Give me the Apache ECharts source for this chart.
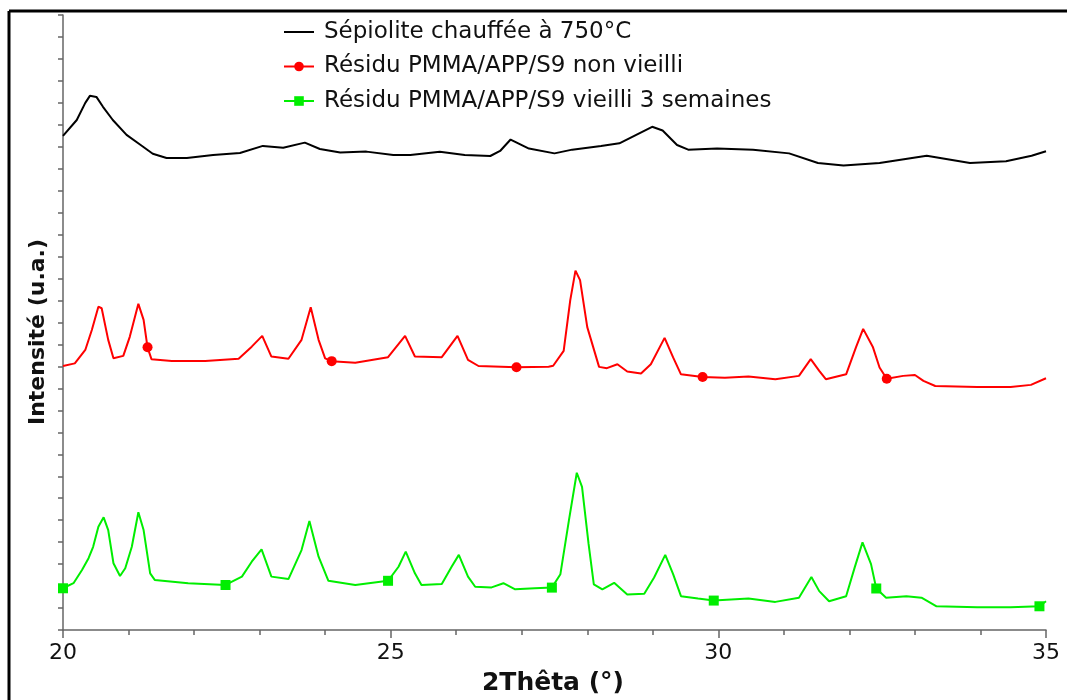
<!DOCTYPE html>
<html>
<head>
<meta charset="utf-8">
<script src="https://cdn.jsdelivr.net/npm/echarts@6/dist/echarts.min.js"></script>
<style>
html,body{margin:0;padding:0;background:#fff;overflow:hidden;}
#chart{width:1067px;height:700px;}
</style>
</head>
<body>
<div id="chart"></div>
<script>
// ---- Data (2θ in degrees, intensity in arbitrary units) ----
const seriesNames = [
  'Sépiolite chauffée à 750°C',
  'Résidu PMMA/APP/S9 non vieilli',
  'Résidu PMMA/APP/S9 vieilli 3 semaines'
];
const xAxisTitle = '2Thêta (°)';
const yAxisTitle = 'Intensité (u.a.)';
const xTickValues = [20, 25, 30, 35];

const sepiolite = [
  [20.00,22.50],[20.21,23.22],[20.34,24.00],[20.41,24.32],[20.51,24.27],[20.61,23.82],
  [20.76,23.22],[20.97,22.54],[21.18,22.09],[21.37,21.68],[21.58,21.49],[21.89,21.49],
  [22.29,21.63],[22.70,21.72],[23.05,22.04],[23.36,21.96],[23.69,22.19],[23.92,21.90],
  [24.23,21.74],[24.63,21.78],[25.04,21.63],[25.30,21.63],[25.75,21.77],[26.13,21.63],
  [26.52,21.58],[26.67,21.81],[26.83,22.33],[27.11,21.92],[27.50,21.70],[27.77,21.87],
  [28.21,22.04],[28.49,22.16],[28.77,22.58],[28.99,22.91],[29.15,22.74],[29.37,22.08],
  [29.54,21.87],[29.98,21.92],[30.53,21.87],[31.08,21.70],[31.52,21.26],[31.91,21.15],
  [32.46,21.26],[33.18,21.59],[33.84,21.26],[34.39,21.34],[34.78,21.59],[35.00,21.80]
];

const nonVieilli = [
  [20.00,12.02],[20.18,12.14],[20.34,12.75],[20.44,13.66],[20.54,14.72],[20.59,14.65],
  [20.69,13.21],[20.77,12.37],[20.92,12.48],[21.02,13.36],[21.15,14.85],[21.23,14.12],
  [21.29,12.87],[21.35,12.33],[21.66,12.25],[22.17,12.25],[22.68,12.35],[22.88,12.90],
  [23.04,13.39],[23.18,12.45],[23.44,12.35],[23.64,13.21],[23.78,14.69],[23.90,13.21],
  [24.00,12.37],[24.10,12.24],[24.46,12.17],[24.96,12.42],[25.22,13.39],[25.37,12.45],
  [25.78,12.42],[26.02,13.39],[26.18,12.30],[26.34,12.02],[26.92,11.96],[27.41,11.99],
  [27.48,12.03],[27.64,12.71],[27.74,15.01],[27.82,16.36],[27.89,15.93],[28.00,13.79],
  [28.18,11.98],[28.30,11.92],[28.46,12.10],[28.61,11.77],[28.82,11.68],[28.97,12.10],
  [29.18,13.30],[29.31,12.41],[29.43,11.64],[29.76,11.52],[30.10,11.49],[30.46,11.54],
  [30.87,11.42],[31.23,11.57],[31.41,12.33],[31.54,11.80],[31.64,11.42],[31.95,11.64],
  [32.10,12.87],[32.21,13.71],[32.36,12.87],[32.46,11.95],[32.57,11.44],[32.82,11.57],
  [33.00,11.61],[33.13,11.34],[33.31,11.11],[33.95,11.06],[34.46,11.06],[34.77,11.16],
  [35.00,11.46]
];
const nonVieilliMarkerX = [21.29, 24.10, 26.92, 29.76, 32.57];

const vieilli = [
  [20.00,1.90],[20.16,2.13],[20.29,2.73],[20.39,3.27],[20.46,3.79],[20.54,4.70],
  [20.62,5.13],[20.69,4.55],[20.77,3.04],[20.87,2.46],[20.95,2.81],[21.05,3.79],
  [21.15,5.36],[21.23,4.55],[21.33,2.58],[21.40,2.28],[21.91,2.13],[22.48,2.05],
  [22.73,2.43],[22.88,3.11],[23.03,3.67],[23.18,2.43],[23.44,2.32],[23.64,3.64],
  [23.76,4.96],[23.90,3.34],[24.05,2.24],[24.46,2.05],[24.96,2.24],[25.12,2.88],
  [25.23,3.57],[25.37,2.58],[25.47,2.05],[25.78,2.09],[25.93,2.88],[26.04,3.42],
  [26.18,2.43],[26.29,1.97],[26.54,1.94],[26.72,2.13],[26.90,1.85],[27.20,1.90],
  [27.46,1.93],[27.59,2.54],[27.72,4.99],[27.84,7.16],[27.92,6.52],[28.02,3.92],
  [28.10,2.08],[28.23,1.85],[28.41,2.15],[28.61,1.62],[28.87,1.65],[29.02,2.39],
  [29.19,3.42],[29.31,2.54],[29.43,1.54],[29.69,1.43],[29.93,1.34],[30.46,1.43],
  [30.87,1.28],[31.23,1.47],[31.42,2.41],[31.54,1.77],[31.69,1.31],[31.95,1.54],
  [32.08,2.84],[32.20,3.99],[32.33,3.00],[32.41,1.89],[32.56,1.47],[32.87,1.54],
  [33.10,1.47],[33.33,1.08],[33.95,1.04],[34.46,1.04],[34.90,1.08],[35.00,1.31]
];
const vieilliMarkerX = [20.00, 22.48, 24.96, 27.46, 29.93, 32.41, 34.90];

// ---- Build ----
function withMarkers(points, markerX) {
  return points.map(p => markerX.indexOf(p[0]) >= 0 ? { value: p } : { value: p, symbol: 'none' });
}

const FONT = 'DejaVu Sans';
const chart = echarts.init(document.getElementById('chart'), null, { renderer: 'canvas' });

chart.setOption({
  animation: false,
  backgroundColor: '#ffffff',
  grid: { left: 63, right: 21, top: 15, bottom: 70, containLabel: false },
  graphic: [
    {
      type: 'line', silent: true, z: 100,
      shape: { x1: 9, y1: 11, x2: 9, y2: 700 },
      style: { stroke: '#000', lineWidth: 3 }
    },
    {
      type: 'line', silent: true, z: 100,
      shape: { x1: 9, y1: 11, x2: 1067, y2: 11 },
      style: { stroke: '#000', lineWidth: 3 }
    },
    {
      type: 'text', silent: true, x: 38, y: 332, rotation: Math.PI / 2,
      style: { text: yAxisTitle, font: 'bold 22px "DejaVu Sans"', fill: '#111', align: 'center', verticalAlign: 'middle' }
    },
    {
      type: 'text', silent: true, x: 553, y: 683,
      style: { text: xAxisTitle, font: 'bold 25px "DejaVu Sans"', fill: '#111', align: 'center', verticalAlign: 'middle' }
    }
  ],
  legend: {
    orient: 'vertical', left: 283, top: 20, padding: 0,
    itemWidth: 30, itemHeight: 12, itemGap: 10.5,
    data: [
      { name: seriesNames[0], icon: 'path://M0,0 L30,0 L30,2 L0,2 Z' },
      { name: seriesNames[1] },
      { name: seriesNames[2] }
    ],
    textStyle: { fontFamily: FONT, fontSize: 23, color: '#111', lineHeight: 24, padding: [0, 0, 0, 5] },
    selectedMode: false
  },
  xAxis: {
    type: 'value', min: 20, max: 35, interval: 5,
    axisLine: { lineStyle: { color: '#666', width: 1.5 } },
    axisTick: { show: true, inside: false, length: 8, lineStyle: { color: '#666', width: 1.5 } },
    minorTick: { show: true, splitNumber: 5, length: 5, lineStyle: { color: '#666', width: 1.5 } },
    axisLabel: {
      fontFamily: FONT, fontSize: 22, color: '#111', margin: 12,
      formatter: v => (xTickValues.indexOf(v) >= 0 ? String(v) : '')
    },
    splitLine: { show: false }
  },
  yAxis: {
    type: 'value', min: 0, max: 28, interval: 1,
    axisLine: { show: true, lineStyle: { color: '#666', width: 1.5 } },
    axisTick: { show: true, inside: false, length: 5, lineStyle: { color: '#666', width: 1.5 } },
    axisLabel: { show: false },
    splitLine: { show: false }
  },
  series: [
    {
      name: seriesNames[0], type: 'line', data: sepiolite,
      symbol: 'none', lineStyle: { color: '#000', width: 2 }, itemStyle: { color: '#000' },
      emphasis: { disabled: true }
    },
    {
      name: seriesNames[1], type: 'line', data: withMarkers(nonVieilli, nonVieilliMarkerX),
      symbol: 'circle', symbolSize: 10, showAllSymbol: true,
      lineStyle: { color: '#ff0000', width: 2 }, itemStyle: { color: '#ff0000' },
      emphasis: { disabled: true }
    },
    {
      name: seriesNames[2], type: 'line', data: withMarkers(vieilli, vieilliMarkerX),
      symbol: 'rect', symbolSize: 10, showAllSymbol: true,
      lineStyle: { color: '#00ee00', width: 2 }, itemStyle: { color: '#00ee00' },
      emphasis: { disabled: true }
    }
  ]
});
</script>
</body>
</html>
